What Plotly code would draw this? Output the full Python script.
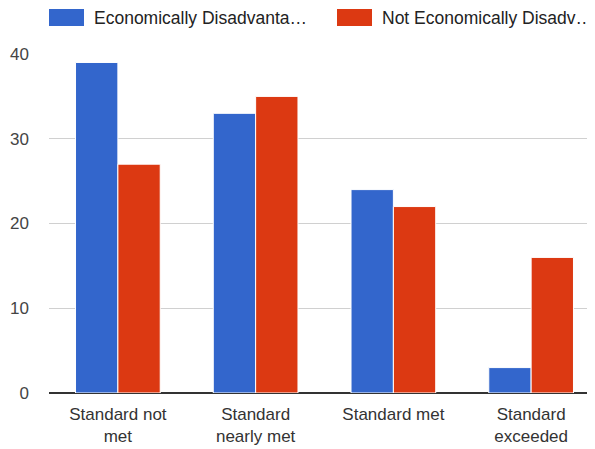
import plotly.graph_objects as go

categories = ["Standard not<br>met", "Standard<br>nearly met", "Standard met", "Standard<br>exceeded"]
econ_disadv = [39, 33, 24, 3]
not_econ_disadv = [27, 35, 22, 16]
series_names = ["Economically Disadvanta…", "Not Economically Disadv…"]
series_colors = ["#3366cc", "#dc3912"]
y_ticks = [0, 10, 20, 30, 40]

W, H = 595, 449
# page body has an 8px default margin, so offsets are compensated here
ML, MR, MT, MB = 41, 3, 46, 64
PW, PH = W - ML - MR, H - MT - MB


def px_x(fx):
    return (fx - ML) / PW


def px_y(fy):
    return 1 + (MT - fy) / PH


fig = go.Figure()
for name, vals, col in zip(series_names, [econ_disadv, not_econ_disadv], series_colors):
    fig.add_trace(go.Bar(x=categories, y=vals, name=name, showlegend=False,
                         marker=dict(color=col, line=dict(color="white", width=1))))

# legend keys (rectangles) and labels, placed at the top like the reference
legend_key_x = [41, 329]
for name, col, kx in zip(series_names, series_colors, legend_key_x):
    fig.add_shape(type="rect", xref="paper", yref="paper",
                  x0=px_x(kx), x1=px_x(kx + 35), y0=px_y(18), y1=px_y(1),
                  fillcolor=col, line=dict(width=0), layer="above")
    fig.add_annotation(text=name, xref="paper", yref="paper",
                       x=px_x(kx + 43), y=px_y(9.5), xanchor="left", yanchor="middle",
                       showarrow=False, font=dict(size=17.5, color="#222"))

fig.update_layout(
    width=W, height=H,
    margin=dict(l=ML, r=MR, t=MT, b=MB, autoexpand=False),
    paper_bgcolor="white", plot_bgcolor="white",
    font=dict(family="Liberation Sans, Arial, sans-serif", size=17, color="#444"),
    barmode="group", bargap=0.385, bargroupgap=0.0,
    xaxis=dict(showgrid=False, showline=False, ticks="", tickfont=dict(size=17, color="#333"),
               automargin=False, ticklabelstandoff=9),
    yaxis=dict(range=[0, 40], tickvals=y_ticks, showgrid=True, gridcolor="#d0d0d0",
               zeroline=True, zerolinecolor="#333", zerolinewidth=1.5, automargin=False,
               tickfont=dict(size=17, color="#444"), ticks="", ticklabelstandoff=19),
)
fig.write_html("out.html")
